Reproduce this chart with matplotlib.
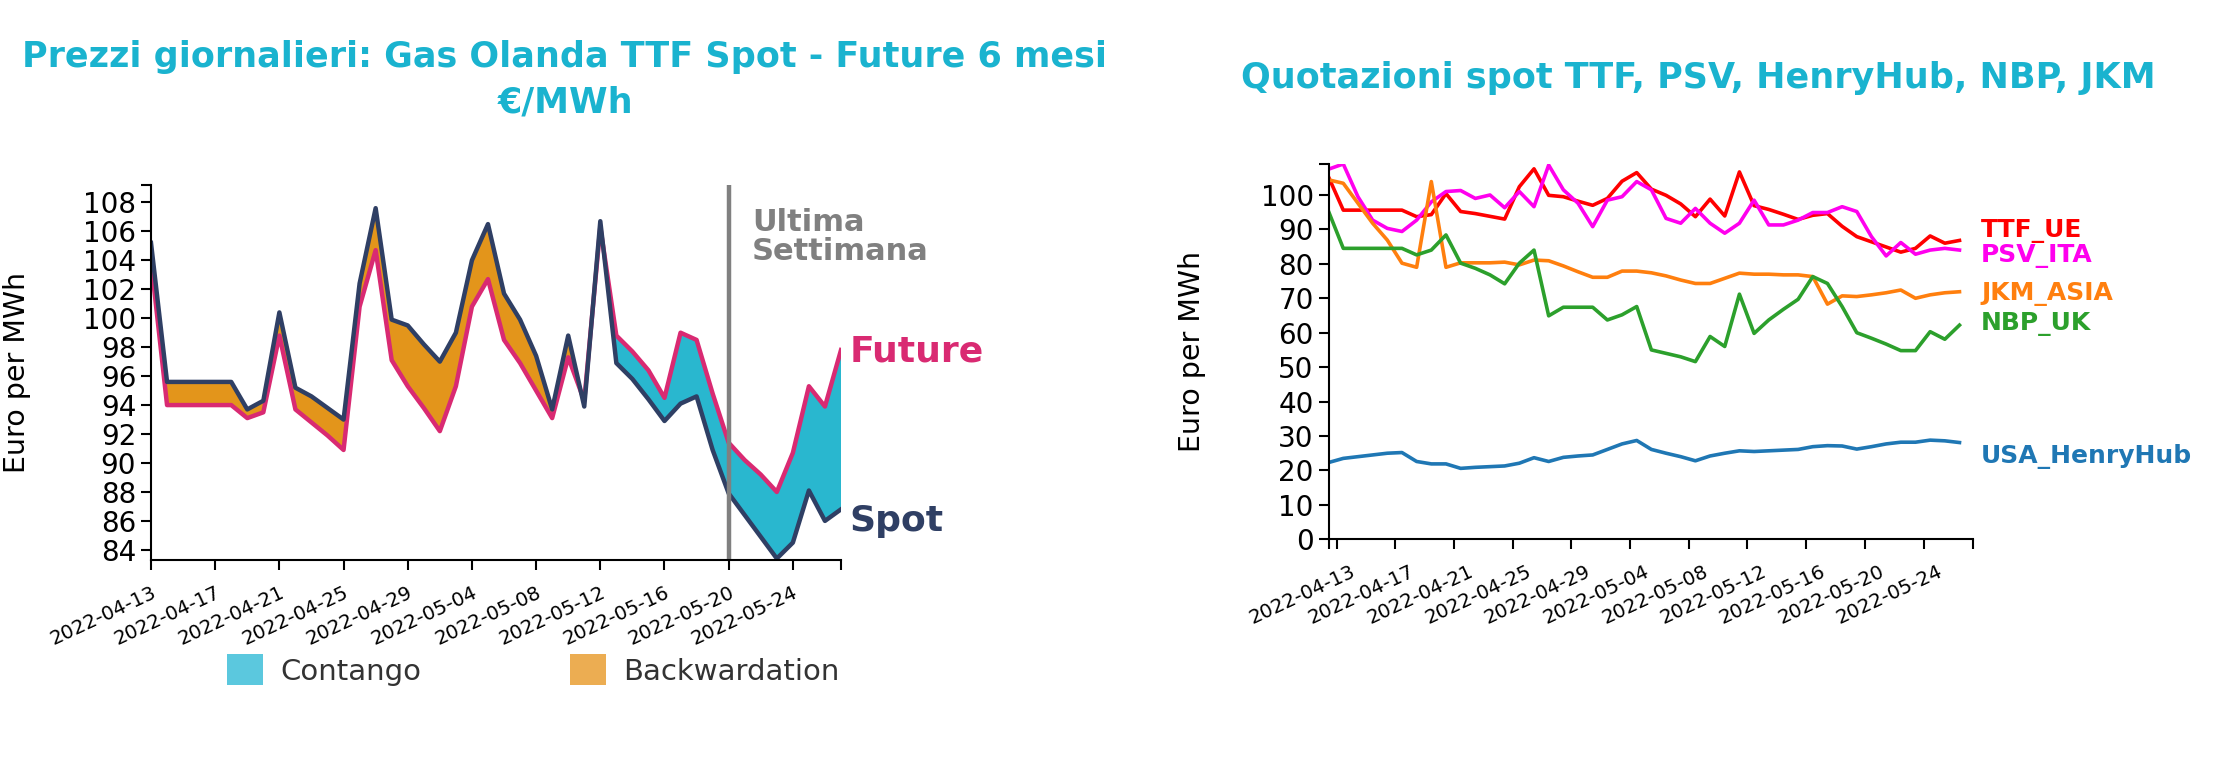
import matplotlib
matplotlib.use('Agg')
import matplotlib.pyplot as plt
import matplotlib.transforms as mtransforms
from matplotlib.patches import Patch
import numpy as np

# tick dates (every 4th trading day)
date_labels = ['2022-04-13', '2022-04-17', '2022-04-21', '2022-04-25', '2022-04-29',
               '2022-05-04', '2022-05-08', '2022-05-12', '2022-05-16', '2022-05-20',
               '2022-05-24']

# left chart: TTF spot vs future 6 months
spot = [105.2, 95.6, 95.6, 95.6, 95.6, 95.6, 93.7, 94.3, 100.4, 95.2, 94.6, 93.8,
        93.0, 102.4, 107.6, 99.9, 99.5, 98.2, 97.0, 99.0, 104.0, 106.5, 101.7, 99.9,
        97.4, 93.7, 98.8, 93.9, 106.7, 96.9, 95.8, 94.4, 92.9, 94.1, 94.6, 90.9,
        87.9, 86.4, 84.9, 83.4, 84.5, 88.1, 86.0, 86.8]
future = [104.0, 94.0, 94.0, 94.0, 94.0, 94.0, 93.1, 93.5, 98.8, 93.7, 92.8, 91.9,
          90.9, 100.8, 104.7, 97.1, 95.3, 93.8, 92.2, 95.3, 100.8, 102.7, 98.5, 96.9,
          95.0, 93.1, 97.3, 94.3, 106.3, 98.8, 97.7, 96.4, 94.5, 99.0, 98.5, 94.8,
          91.4, 90.2, 89.2, 88.0, 90.7, 95.3, 93.9, 97.8]
last_week_idx = 36

# right chart: spot quotes
ttf_ue = list(spot)
psv_ita = [107.5, 109.0, 99.5, 92.7, 90.3, 89.4, 92.7, 98.0, 101.0, 101.3, 99.0, 100.0,
           96.3, 101.0, 96.6, 108.7, 101.5, 97.6, 90.8, 98.5, 99.5, 103.9, 101.5, 93.2,
           91.8, 96.1, 91.8, 88.9, 91.8, 98.5, 91.3, 91.3, 92.7, 94.9, 94.9, 96.6,
           95.2, 87.9, 82.3, 86.2, 82.8, 84.0, 84.5, 84.0]
jkm_asia = [104.4, 103.4, 97.6, 91.8, 86.9, 80.2, 79.0, 103.9, 79.0, 80.3, 80.3, 80.3,
            80.5, 79.7, 81.1, 80.9, 79.4, 77.7, 76.1, 76.1, 77.9, 77.9, 77.4, 76.5,
            75.3, 74.3, 74.3, 75.8, 77.3, 77.0, 77.0, 76.8, 76.8, 76.3, 68.3, 70.7,
            70.5, 71.0, 71.6, 72.4, 70.0, 71.0, 71.6, 71.9]
nbp_uk = [95.2, 84.5, 84.5, 84.5, 84.5, 84.5, 82.6, 84.0, 88.4, 80.2, 78.7, 76.8,
          74.2, 80.2, 84.0, 64.9, 67.4, 67.4, 67.4, 63.7, 65.2, 67.6, 55.0, 54.0,
          53.0, 51.6, 58.9, 56.0, 71.2, 59.8, 63.7, 66.8, 69.7, 76.3, 74.3, 67.6,
          60.0, 58.4, 56.7, 54.8, 54.8, 60.3, 58.1, 62.2]
usa_henryhub = [22.3, 23.5, 24.0, 24.5, 25.0, 25.2, 22.6, 21.9, 21.9, 20.6, 20.9, 21.1,
                21.3, 22.1, 23.7, 22.6, 23.8, 24.2, 24.5, 26.1, 27.7, 28.7, 26.1, 25.0,
                24.0, 22.8, 24.2, 25.0, 25.7, 25.5, 25.7, 25.9, 26.1, 26.9, 27.2, 27.1,
                26.2, 26.9, 27.7, 28.2, 28.2, 28.8, 28.6, 28.1]

series = [('TTF_UE', ttf_ue, '#ff0000', 87.8),
          ('PSV_ITA', psv_ita, '#ff00ee', 80.4),
          ('JKM_ASIA', jkm_asia, '#ff7f0e', 69.5),
          ('NBP_UK', nbp_uk, '#2ca02c', 60.8),
          ('USA_HenryHub', usa_henryhub, '#1f77b4', 22.1)]

title_color = '#1ab3cf'

fig = plt.figure(figsize=(22.18, 7.57), dpi=100)
W, H = 2218, 757

# ---------------- left chart ----------------
ax1 = fig.add_axes([151 / W, 197 / H, 690 / W, 375 / H])
x = np.arange(len(spot))
spot_a = np.array(spot)
fut_a = np.array(future)
ax1.fill_between(x, spot_a, fut_a, where=fut_a >= spot_a, interpolate=True,
                 color='#29b7cf', lw=0)
ax1.fill_between(x, spot_a, fut_a, where=spot_a >= fut_a, interpolate=True,
                 color='#e3951b', lw=0)
ax1.plot(x, future, color='#d92a72', lw=3.2, solid_joinstyle='round')
ax1.plot(x, spot, color='#2f3f64', lw=3.2, solid_joinstyle='round')
ax1.axvline(last_week_idx, color='#808080', lw=3.2)
ax1.text(37.45, 106.0, 'Ultima', color='#808080', fontsize=22, fontweight='bold')
ax1.text(37.45, 104.0, 'Settimana', color='#808080', fontsize=22, fontweight='bold')
ax1.text(43.55, 97.0, 'Future', color='#d92a72', fontsize=26, fontweight='bold',
         clip_on=False)
ax1.text(43.55, 85.3, 'Spot', color='#2f3f64', fontsize=26, fontweight='bold',
         clip_on=False)

ax1.set_xlim(0, len(spot) - 1)
ax1.set_ylim(83.3, 109.2)
ax1.set_yticks(np.arange(84, 109, 2))
ax1.set_xticks(np.arange(0, 41, 4))
ax1.set_xticklabels(date_labels)
ax1.set_xticks([len(spot) - 1], minor=True)
ax1.set_yticks([109.2], minor=True)
ax1.set_ylabel('Euro per MWh', fontsize=20.5)
ax1.yaxis.set_label_coords(-0.174, 0.5)

# ---------------- right chart ----------------
ax2 = fig.add_axes([1328.6 / W, (H - 539.3) / H, 644.1 / W, 375.3 / H])
for name, vals, col, ylab in series:
    ax2.plot(x, vals, color=col, lw=2.6, solid_joinstyle='round')
    ax2.text(44.47, ylab, name, color=col, fontsize=18, fontweight='bold',
             clip_on=False)
ax2.set_xlim(0, 43.9)
ax2.set_ylim(0, 109)
ax2.set_yticks(np.arange(0, 101, 10))
ax2.set_xticks(np.arange(0, 41, 4) + 0.55)
ax2.set_xticklabels(date_labels)
ax2.set_xticks([0, 43.9], minor=True)
ax2.set_yticks([109], minor=True)
ax2.set_ylabel('Euro per MWh', fontsize=20.5)
ax2.yaxis.set_label_coords(-0.19, 0.5)

for ax in (ax1, ax2):
    for s in ('top', 'right'):
        ax.spines[s].set_visible(False)
    for s in ('left', 'bottom'):
        ax.spines[s].set_linewidth(1.5)
    ax.tick_params(which='both', length=7.2, width=1.5, color='black')
    ax.tick_params(axis='y', labelsize=20, pad=3.5)
    ax.tick_params(axis='x', labelsize=14.2, pad=9)
    for lab in ax.get_xticklabels():
        lab.set_rotation(25)
        lab.set_ha('right')
        lab.set_va('top')
        lab.set_rotation_mode('anchor')

off = mtransforms.ScaledTranslation(14 / 100, 0, fig.dpi_scale_trans)
for lab in ax2.get_xticklabels():
    lab.set_transform(lab.get_transform() + off)

# titles
fig.text(565 / W, 1 - 57 / H, 'Prezzi giornalieri: Gas Olanda TTF Spot - Future 6 mesi',
         ha='center', va='center', fontsize=25.2, fontweight='bold', color=title_color)
fig.text(565 / W, 1 - 102 / H, '€/MWh', ha='center', va='center', fontsize=25.2,
         fontweight='bold', color=title_color)
fig.text(1698 / W, 1 - 78 / H, 'Quotazioni spot TTF, PSV, HenryHub, NBP, JKM',
         ha='center', va='center', fontsize=25.2, fontweight='bold', color=title_color)

# legend
handles = [Patch(facecolor='#5bc8de', edgecolor='none', label='Contango'),
           Patch(facecolor='#ecad52', edgecolor='none', label='Backwardation')]
leg = fig.legend(handles=handles, loc='center left', bbox_to_anchor=(227 / W, 1 - 670 / H),
                 ncol=2, frameon=False, fontsize=21, handlelength=1.24, handleheight=1.24,
                 handletextpad=0.59, columnspacing=5.1, borderpad=0, borderaxespad=0)
for t in leg.get_texts():
    t.set_color('#333333')

fig.savefig('out.png', dpi=100)
